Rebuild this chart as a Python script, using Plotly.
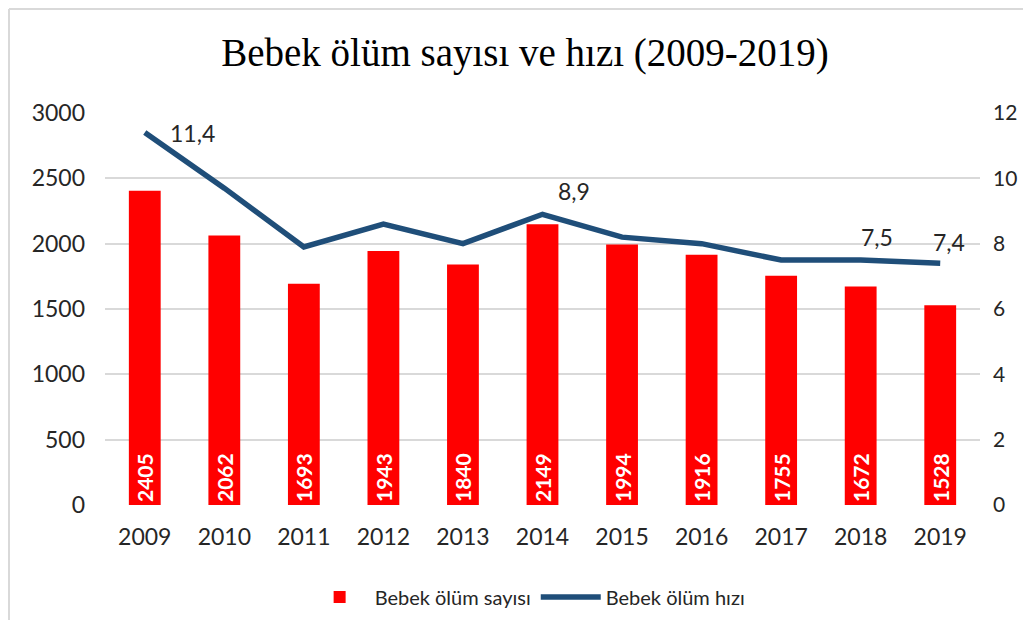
import plotly.graph_objects as go

years = ["2009", "2010", "2011", "2012", "2013", "2014", "2015", "2016", "2017", "2018", "2019"]
deaths = [2405, 2062, 1693, 1943, 1840, 2149, 1994, 1916, 1755, 1672, 1528]
rate = [11.4, 9.7, 7.9, 8.6, 8.0, 8.9, 8.2, 8.0, 7.5, 7.5, 7.4]
rate_labels = ["11,4", "", "", "", "", "8,9", "", "", "", "7,5", "7,4"]
bar_name = "Bebek ölüm sayısı"
line_name = "Bebek ölüm hızı"
title_text = "Bebek ölüm sayısı ve hızı (2009-2019)"

# label offsets in pixels (style only)
label_shift = {0: (48, 0), 5: (31, 23), 9: (16, 23), 10: (9, 21)}

FONT = "Lato"
TXT = "#262626"

fig = go.Figure()
fig.add_trace(go.Bar(
    x=years, y=deaths, name=bar_name,
    marker=dict(color="#ff0000", line=dict(width=0)),
    text=[str(v) for v in deaths], textposition="inside", insidetextanchor="start",
    textangle=-90, textfont=dict(color="white", size=21, family=FONT, weight="bold"),
    cliponaxis=False,
))
fig.add_trace(go.Scatter(
    x=years, y=rate, name=line_name, yaxis="y2", mode="lines",
    line=dict(color="#1f4e79", width=5.5),
    cliponaxis=False,
))

annotations = []
for i, (v, lab) in enumerate(zip(rate, rate_labels)):
    if lab:
        dx, dy = label_shift.get(i, (0, 20))
        annotations.append(dict(
            x=i, y=v, xref="x", yref="y2", text=lab, showarrow=False,
            xanchor="center", yanchor="middle", xshift=dx, yshift=dy,
            font=dict(family=FONT, size=23, color=TXT),
        ))

W, H = 1015, 612
L, R, T, B = 97, 43, 105, 115
pw = W - L - R
ph = H - T - B

fig.update_layout(
    width=W, height=H,
    margin=dict(l=L, r=R, t=T, b=B, autoexpand=False),
    paper_bgcolor="white", plot_bgcolor="white",
    title=dict(text=title_text, x=517 / W, xref="container", xanchor="center",
               y=1 - 44 / H, yref="container", yanchor="middle",
               font=dict(family="Liberation Serif", size=39, color="black")),
    bargap=0.6,
    showlegend=True,
    legend=dict(orientation="h", x=0.483, xanchor="center", y=-0.235, yanchor="middle",
                font=dict(family=FONT, size=20, color=TXT), traceorder="normal",
                itemwidth=60),
    xaxis=dict(type="category", range=[-0.5, len(years) - 0.5], showgrid=False,
               showline=False, ticks="", automargin=False, ticklabelstandoff=16,
               tickfont=dict(family=FONT, size=23, color=TXT)),
    yaxis=dict(range=[0, 3000], dtick=500, showgrid=True, gridcolor="#d9d9d9", gridwidth=2,
               zeroline=False, ticks="", automargin=False, ticklabelstandoff=19,
               tickfont=dict(family=FONT, size=23, color=TXT)),
    yaxis2=dict(range=[0, 12], dtick=2, overlaying="y", side="right", showgrid=False,
                zeroline=False, automargin=False, ticklabelstandoff=12,
                tickfont=dict(family=FONT, size=21, color=TXT)),
    annotations=annotations,
    shapes=[
        dict(type="line", xref="paper", yref="paper",
             x0=-(L - 1) / pw, x1=(W - L) / pw, y0=1 + (T - 1) / ph, y1=1 + (T - 1) / ph,
             line=dict(color="#d9d9d9", width=2)),
        dict(type="line", xref="paper", yref="paper",
             x0=-(L - 1) / pw, x1=-(L - 1) / pw, y0=-B / ph, y1=1 + (T - 1) / ph,
             line=dict(color="#d9d9d9", width=2)),
    ],
)

fig.write_html("out.html")
